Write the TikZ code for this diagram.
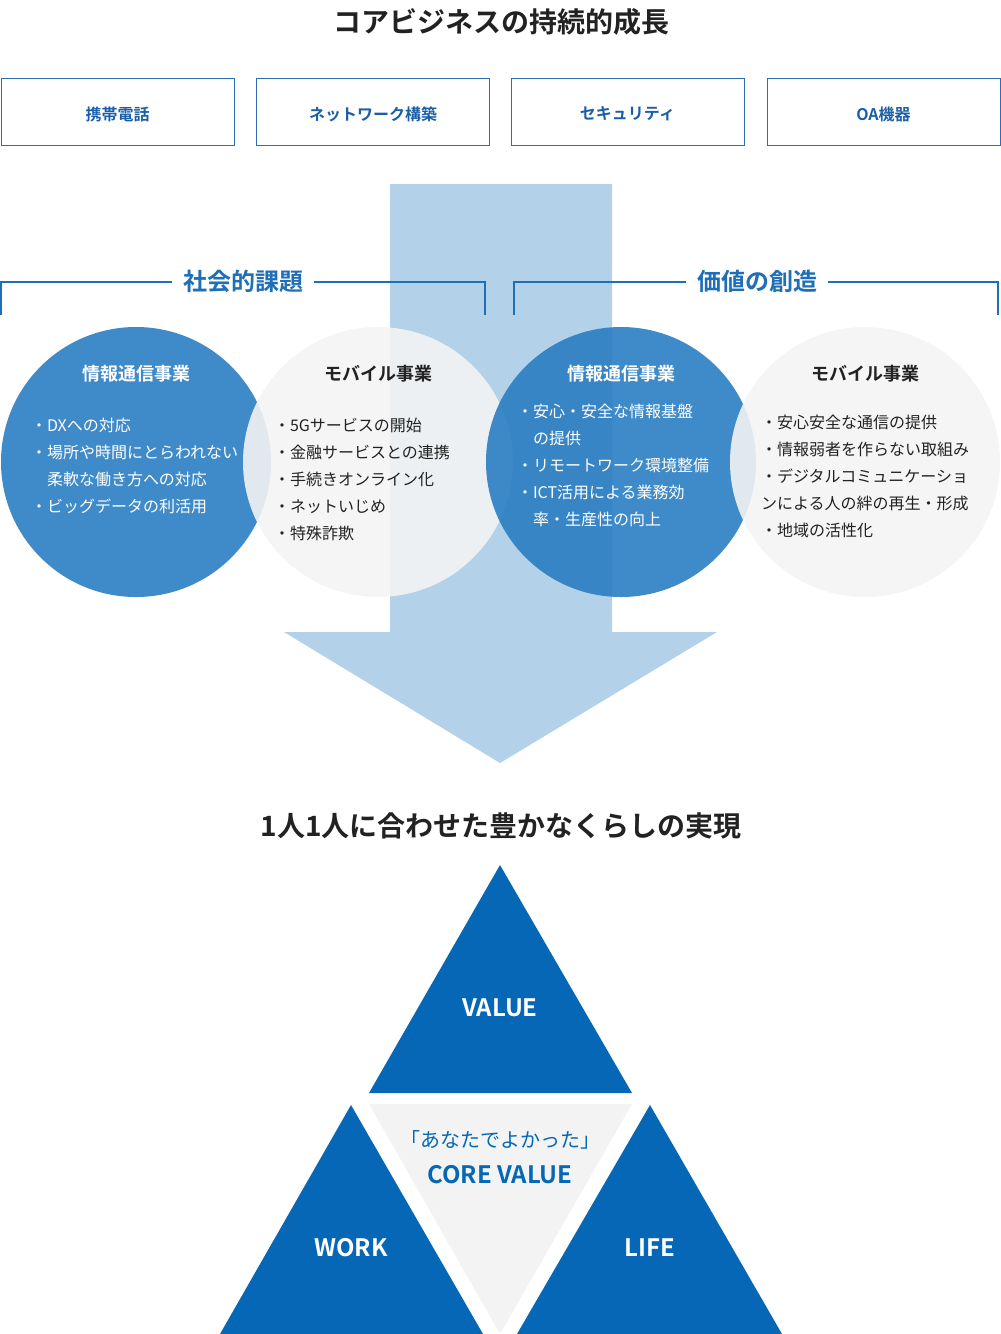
\documentclass[tikz,border=0pt]{standalone}
\usepackage{fontspec}
\setmainfont{Noto Sans CJK JP}[BoldFont={Noto Sans CJK JP Bold}]
\definecolor{darktext}{HTML}{222222}
\definecolor{boxblue}{HTML}{2F6DB3}
\definecolor{boxtext}{HTML}{1A5EA8}
\definecolor{brblue}{HTML}{1E6EB8}
\definecolor{arrowblue}{HTML}{B3D1E8}
\definecolor{circblue}{HTML}{2A7DC2}
\definecolor{circgray}{HTML}{F4F4F4}
\definecolor{triblue}{HTML}{0567B5}
\definecolor{trigray}{HTML}{F3F3F3}
\newcommand{\boxtxt}[1]{\raisebox{-2.5pt}[\height][\depth]{#1}}
\begin{document}
\begin{tikzpicture}[x=1pt,y=-1pt,
  every node/.style={inner sep=0pt, outer sep=0pt},
  maintitle/.style={font=\fontsize{28}{28}\selectfont\bfseries, text=darktext},
  topbox/.style={draw=boxblue, line width=1pt, minimum width=233pt, minimum height=67pt,
    font=\fontsize{16}{16}\selectfont\bfseries, text=boxtext},
  brlabel/.style={font=\fontsize{24}{24}\selectfont\bfseries, text=brblue},
  brline/.style={draw=brblue, line width=2pt},
  bluecirc/.style={circle, minimum size=270pt, fill=circblue, fill opacity=0.9},
  graycirc/.style={circle, minimum size=270pt, fill=circgray, fill opacity=0.9},
  ctitlew/.style={font=\fontsize{18}{18}\selectfont\bfseries, text=white},
  ctitled/.style={font=\fontsize{18}{18}\selectfont\bfseries, text=darktext},
  cbodyw/.style={anchor=north west, align=left, font=\fontsize{16}{27}\selectfont, text=white},
  cbodyd/.style={anchor=north west, align=left, font=\fontsize{16}{27}\selectfont, text=darktext},
  trilabel/.style={font=\fontsize{24}{24}\selectfont\bfseries, text=white}]
\useasboundingbox (0,0) rectangle (1001,1334);

% title
\node[maintitle] (title) at (501,22) {コアビジネスの持続的成長};

% top boxes
\node[topbox] (b1) at (117.5,111.5) {\boxtxt{携帯電話}};
\node[topbox] (b2) at (373,111.5) {\boxtxt{ネットワーク構築}};
\node[topbox] (b3) at (627.5,111.5) {\boxtxt{セキュリティ}};
\node[topbox] (b4) at (883.5,111.5) {\boxtxt{OA機器}};

% big arrow
\fill[arrowblue] (390,184) -- (612,184) -- (612,632) -- (717,632) -- (500,763)
  -- (284,632) -- (390,632) -- cycle;

% brackets
\node[brlabel] (soc) at (243,281) {社会的課題};
\node[brlabel] (val) at (757,281) {価値の創造};
\coordinate (l1) at (1,315);
\coordinate (l2) at (1,282);
\coordinate (l3) at (485,282);
\coordinate (l4) at (485,315);
\coordinate (r1) at (514,315);
\coordinate (r2) at (514,282);
\coordinate (r3) at (998,282);
\coordinate (r4) at (998,315);
\draw[brline] (l1) -- (l2) -- ([xshift=-11pt]soc.west |- l2);
\draw[brline] ([xshift=11pt]soc.east |- l3) -- (l3) -- (l4);
\draw[brline] (r1) -- (r2) -- ([xshift=-11pt]val.west |- r2);
\draw[brline] ([xshift=11pt]val.east |- r3) -- (r3) -- (r4);

% circles
\node[bluecirc] (c1) at (136,462) {};
\node[graycirc] (c2) at (378,462) {};
\node[bluecirc] (c3) at (621,462) {};
\node[graycirc] (c4) at (865,462) {};

\node[ctitlew] (c1t) at (136,374) {情報通信事業};
\node[ctitled] (c2t) at (378,374) {モバイル事業};
\node[ctitlew] (c3t) at (621,374) {情報通信事業};
\node[ctitled] (c4t) at (865,374) {モバイル事業};

\node[cbodyw] (c1b) at (31,418.5) {・DXへの対応\\・場所や時間にとらわれない\\\hspace{1em}柔軟な働き方への対応\\・ビッグデータの利活用};
\node[cbodyd] (c2b) at (274,418.5) {・5Gサービスの開始\\・金融サービスとの連携\\・手続きオンライン化\\・ネットいじめ\\・特殊詐欺};
\node[cbodyw] (c3b) at (517,404.5) {・安心・安全な情報基盤\\\hspace{1em}の提供\\・リモートワーク環境整備\\・ICT活用による業務効\\\hspace{1em}率・生産性の向上};
\node[cbodyd] (c4b) at (761,415.5) {・安心安全な通信の提供\\・情報弱者を作らない取組み\\・デジタルコミュニケーショ\\ンによる人の絆の再生・形成\\・地域の活性化};

% bottom title
\node[maintitle] (goal) at (501,826) {1人1人に合わせた豊かなくらしの実現};

% triangles
\fill[triblue] (500,865) -- (632,1093) -- (369,1093) -- cycle;
\fill[trigray] (369,1104) -- (632,1104) -- (500,1334) -- cycle;
\fill[triblue] (351,1105) -- (483,1334) -- (220,1334) -- cycle;
\fill[triblue] (650,1105) -- (782,1334) -- (517,1334) -- cycle;

\node[trilabel] (tv) at (500,1008) {VALUE};
\node[trilabel] (tw) at (351,1248) {WORK};
\node[trilabel] (tl) at (650,1248) {LIFE};
\node[font=\fontsize{20}{20}\selectfont, text=triblue] (cq) at (500,1140) {「あなたでよかった」};
\node[font=\fontsize{24}{24}\selectfont\bfseries, text=triblue] (cv) at (500,1175) {CORE VALUE};
\end{tikzpicture}
\end{document}
